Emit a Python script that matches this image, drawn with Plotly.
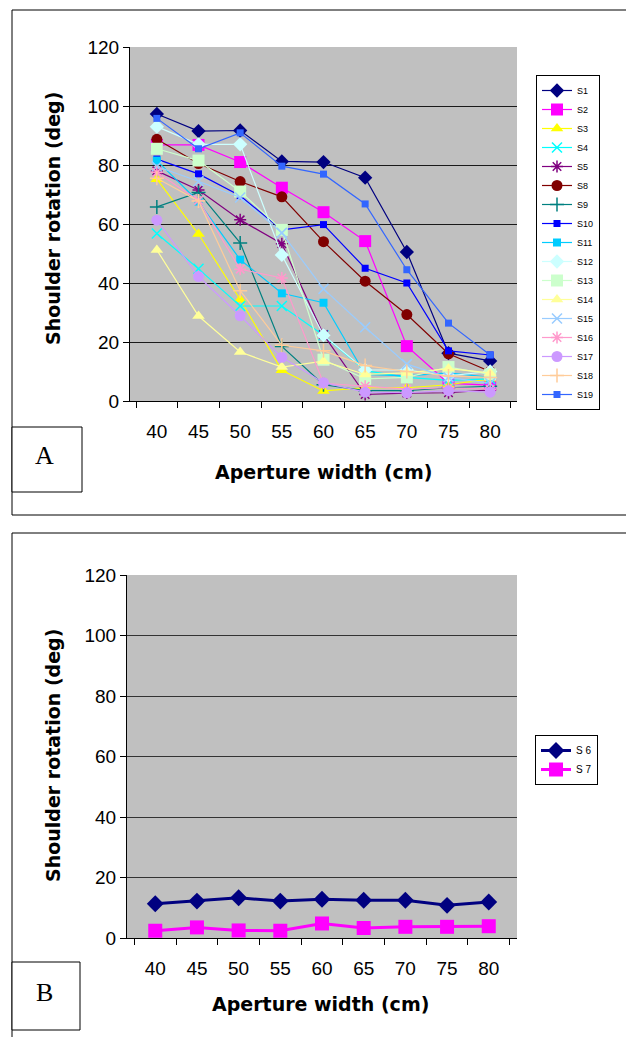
import plotly.graph_objects as go

W, H = 626, 1037

apertures = ["40", "45", "50", "55", "60", "65", "70", "75", "80"]

S1 = [97.3, 91.5, 91.7, 81.2, 81.0, 75.7, 50.5, 16.2, 13.6]
S2 = [86.8, 86.8, 81.0, 72.3, 64.0, 54.2, 18.6, 6.0, 5.4]
S3 = [75.2, 56.6, 34.4, 10.4, 3.4, 4.5, 4.5, 5.5, 7.5]
S4 = [56.8, 44.8, 32.2, 32.2, 22.3, 10.3, 8.0, 7.0, 7.5]
S5 = [78.0, 71.5, 61.4, 53.3, 22.5, 2.2, 2.7, 2.8, 3.8]
S8 = [88.7, 80.5, 74.4, 69.2, 54.0, 40.6, 29.3, 16.0, 10.0]
S9 = [65.8, 70.7, 53.6, 18.5, 5.5, 3.5, 3.5, 4.5, 5.0]
S10 = [82.0, 77.0, 69.6, 58.0, 59.8, 45.0, 40.0, 17.0, 15.6]
S11 = [81.5, 67.6, 47.9, 36.5, 33.3, 9.0, 8.5, 9.5, 8.0]
S12 = [93.0, 87.0, 87.0, 49.5, 22.3, 10.5, 10.5, 8.5, 10.0]
S13 = [85.5, 81.5, 71.0, 58.0, 14.0, 7.5, 8.0, 11.5, 9.0]
S14 = [51.2, 28.8, 16.6, 11.5, 13.5, 9.0, 9.5, 11.0, 9.5]
S15 = [79.5, 74.5, 69.0, 57.0, 38.0, 25.0, 12.5, 8.0, 6.0]
S16 = [77.5, 68.0, 44.7, 41.7, 6.0, 5.0, 4.0, 4.5, 4.0]
S17 = [61.3, 42.2, 28.9, 14.8, 6.2, 3.0, 2.8, 3.5, 3.0]
S18 = [75.5, 67.8, 37.4, 18.9, 17.0, 12.0, 10.0, 8.5, 8.0]
S19 = [95.8, 85.5, 90.9, 79.6, 76.9, 66.8, 44.5, 26.4, 15.6]

S6 = [11.3, 12.2, 13.3, 12.2, 12.8, 12.5, 12.5, 10.8, 11.9]
S7 = [2.4, 3.5, 2.5, 2.4, 4.8, 3.3, 3.7, 3.7, 3.9]

top_series = [
    ("S1", S1, "#000080", "diamond", 11),
    ("S2", S2, "#FF00FF", "square", 12),
    ("S3", S3, "#FFFF00", "triangle-up", 11),
    ("S4", S4, "#00FFFF", "x-thin", 10),
    ("S5", S5, "#800080", "asterisk", 10),
    ("S8", S8, "#800000", "circle", 11),
    ("S9", S9, "#008080", "cross-thin", 10),
    ("S10", S10, "#0000FF", "square", 7),
    ("S11", S11, "#00CCFF", "square", 8),
    ("S12", S12, "#CCFFFF", "diamond", 11),
    ("S13", S13, "#CCFFCC", "square", 12),
    ("S14", S14, "#FFFF99", "triangle-up", 11),
    ("S15", S15, "#99CCFF", "x-thin", 10),
    ("S16", S16, "#FF99CC", "asterisk", 10),
    ("S17", S17, "#CC99FF", "circle", 11),
    ("S18", S18, "#FFCC99", "cross-thin", 10),
    ("S19", S19, "#3366FF", "square", 7),
]

bottom_series = [
    ("S 6", S6, "#000080", "diamond", 13),
    ("S 7", S7, "#FF00FF", "square", 14),
]

FONT = "Arial, Liberation Sans, sans-serif"
TITLE_FONT = "DejaVu Sans, Arial, sans-serif"

def px_x(p):
    return p / W

def px_y(p):
    return 1 - p / H

fig = go.Figure()

thin = {"x-thin", "asterisk", "cross-thin"}
for name, vals, col, sym, sz in top_series:
    fig.add_trace(go.Scatter(
        x=apertures, y=vals, name=name, mode="lines+markers",
        line=dict(color=col, width=1.2),
        marker=dict(symbol=sym, size=sz, color=col,
                    line=dict(color=col, width=1.5 if sym in thin else 0)),
        xaxis="x", yaxis="y", legend="legend",
    ))

for name, vals, col, sym, sz in bottom_series:
    fig.add_trace(go.Scatter(
        x=apertures, y=vals, name=name, mode="lines+markers",
        line=dict(color=col, width=3),
        marker=dict(symbol=sym, size=sz, color=col, line=dict(width=0)),
        xaxis="x2", yaxis="y2", legend="legend2",
    ))

axis_common = dict(
    showline=True, linecolor="black", linewidth=1,
    ticks="outside", ticklen=6, tickcolor="black",
    tickfont=dict(family=FONT, size=19, color="black"),
    zeroline=False, automargin=False,
)

fig.update_layout(
    width=W, height=H,
    margin=dict(l=0, r=0, t=0, b=0, autoexpand=False),
    paper_bgcolor="white",
    plot_bgcolor="#C0C0C0",
    font=dict(family=FONT, color="black"),
    xaxis=dict(domain=[px_x(130), px_x(517)], anchor="y", type="category",
               tickson="boundaries", showgrid=False, ticklabelstandoff=13,
               **axis_common),
    yaxis=dict(domain=[px_y(401), px_y(47)], anchor="x", range=[0, 120],
               dtick=20, showgrid=True, gridcolor="#1a1a1a", gridwidth=1,
               **axis_common),
    xaxis2=dict(domain=[px_x(127), px_x(517)], anchor="y2", type="category",
                tickson="boundaries", showgrid=False, ticklabelstandoff=13,
                **axis_common),
    yaxis2=dict(domain=[px_y(938), px_y(575)], anchor="x2", range=[0, 120],
                dtick=20, showgrid=True, gridcolor="#333333", gridwidth=1,
                **axis_common),
    legend=dict(x=px_x(536), y=px_y(75), xanchor="left", yanchor="top",
                bgcolor="white", bordercolor="black", borderwidth=1,
                font=dict(family=FONT, size=9, color="black"),
                itemwidth=30, tracegroupgap=0),
    legend2=dict(x=px_x(535), y=px_y(735), xanchor="left", yanchor="top",
                 bgcolor="white", bordercolor="black", borderwidth=1,
                 font=dict(family=FONT, size=10, color="black"),
                 itemwidth=30),
    showlegend=True,
)

shapes = [
    # outer frames (right / bottom edges run off the page)
    dict(type="rect", xref="paper", yref="paper", x0=px_x(12), x1=px_x(632),
         y0=px_y(515), y1=px_y(10), line=dict(color="black", width=1)),
    dict(type="rect", xref="paper", yref="paper", x0=px_x(12), x1=px_x(632),
         y0=px_y(1045), y1=px_y(533), line=dict(color="black", width=1)),
    # label boxes
    dict(type="rect", xref="paper", yref="paper", x0=px_x(12), x1=px_x(82),
         y0=px_y(492), y1=px_y(427), line=dict(color="black", width=1),
         fillcolor="white"),
    dict(type="rect", xref="paper", yref="paper", x0=px_x(12), x1=px_x(80),
         y0=px_y(1030), y1=px_y(962), line=dict(color="black", width=1),
         fillcolor="white"),
]
fig.update_layout(shapes=shapes)

ann = [
    dict(text="<b>Shoulder rotation (deg)</b>", x=px_x(53), y=px_y(219),
         textangle=-90, font=dict(family=TITLE_FONT, size=19)),
    dict(text="<b>Aperture width (cm)</b>", x=px_x(323), y=px_y(472),
         font=dict(family=TITLE_FONT, size=19)),
    dict(text="<b>Shoulder rotation (deg)</b>", x=px_x(53), y=px_y(756),
         textangle=-90, font=dict(family=TITLE_FONT, size=19)),
    dict(text="<b>Aperture width (cm)</b>", x=px_x(320), y=px_y(1004),
         font=dict(family=TITLE_FONT, size=19)),
    dict(text="A", x=px_x(44), y=px_y(456),
         font=dict(family="Liberation Serif, Times New Roman, serif", size=26)),
    dict(text="B", x=px_x(44), y=px_y(992),
         font=dict(family="Liberation Serif, Times New Roman, serif", size=26)),
]
for a in ann:
    a.update(xref="paper", yref="paper", showarrow=False,
             xanchor="center", yanchor="middle")
    a["font"].setdefault("family", FONT)
    a["font"]["color"] = "black"
fig.update_layout(annotations=ann)

fig.write_html(
    "out.html",
    config={"displayModeBar": False},
    post_script="document.body.style.margin='0';document.body.style.overflow='hidden';",
)
